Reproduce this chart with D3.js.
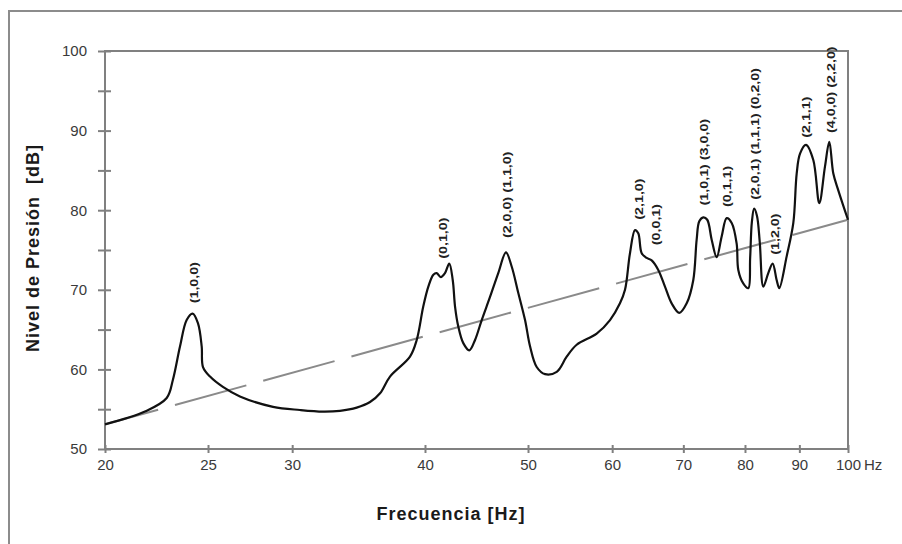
<!DOCTYPE html>
<html>
<head>
<meta charset="utf-8">
<script src="https://cdn.jsdelivr.net/npm/d3@7"></script>
<style>
    body { margin: 0; background: #fff; }
    text { font-family: Arial, "Liberation Sans", sans-serif; }
</style>
</head>
<body>
<svg id="chart" width="902" height="544"></svg>
<script>
var freqs = [20, 21.81, 22.86, 23.17, 23.53, 23.87, 24.18, 24.46, 24.66, 24.73,
    25.11, 25.82, 26.79, 28.78, 30.51, 32.07, 33.27, 34.5, 35.51, 36.29,
    37.08, 38.72, 39.29, 39.85, 40.29, 40.73, 41.03, 41.39, 41.77, 42.16,
    42.48, 42.69, 42.99, 43.46, 44.03, 44.58, 45.23, 46.05, 46.88, 47.67,
    48.27, 48.96, 49.68, 50.22, 50.95, 51.88, 53.21, 54.37, 55.56, 58.02,
    59.72, 61.02, 61.69, 62.36, 63.04, 63.49, 63.96, 64.66, 65.36, 66.3,
    67.27, 68.25, 69.39, 70.51, 71.52, 72.05, 72.46, 73.09, 73.72, 74.43,
    75.24, 76.06, 76.89, 77.73, 78.57, 78.85, 79.7, 80.58, 80.9, 81.2,
    81.6, 82.1, 82.6, 83.24, 84.14, 84.94, 85.69, 86.17, 87.56, 88.83,
    89.48, 90.13, 91.3, 92.76, 93.97, 95.14, 96.03, 96.87, 97.92, 100];

var levels = [53.1, 54.7, 56.4, 58.7, 62.9, 66.2, 67.0, 65.8, 62.9, 60.3,
    59.1, 57.8, 56.6, 55.3, 54.9, 54.7, 54.8, 55.2, 55.9, 57.0,
    59.1, 61.6, 63.7, 67.9, 70.4, 71.9, 72.1, 71.6, 72.1, 73.3,
    71.2, 67.9, 65.4, 63.3, 62.4, 63.7, 66.2, 69.1, 72.1, 74.7,
    72.9, 69.6, 66.2, 62.9, 60.3, 59.4, 59.7, 61.6, 63.1, 64.5,
    66.2, 68.3, 70.0, 74.6, 77.5, 77.1, 74.6, 74.0, 73.7, 72.5,
    70.4, 68.3, 67.1, 68.3, 71.2, 76.3, 78.6, 79.1, 78.8, 76.3,
    74.1, 76.7, 79.0, 78.4, 75.8, 72.5, 70.8, 70.2, 74.0, 78.5,
    80.2, 79.3, 76.0, 70.4, 72.1, 73.3, 71.2, 70.2, 74.2, 78.4,
    84.6, 87.1, 88.2, 86.3, 80.9, 85.5, 88.6, 84.6, 82.5, 78.8];

// dashed trend line end points
var trendFreqs = [20, 100];
var trendLevels = [53.1, 78.8];

var xTicks = [20, 25, 30, 40, 50, 60, 70, 80, 90, 100];
var yTicks = [50, 55, 60, 65, 70, 75, 80, 85, 90, 95, 100];

// room modes, label sits just above each peak
var modeNames = ["(1,0,0)", "(0,1,0)", "(2,0,0) (1,1,0)", "(2,1,0)", "(0,0,1)",
    "(1,0,1) (3,0,0)", "(0,1,1)", "(2,0,1) (1,1,1) (0,2,0)", "(1,2,0)",
    "(2,1,1)", "(4,0,0) (2,2,0)"];
var modeFreqs = [24.25, 41.57, 47.74, 63.59, 65.97, 73.2, 76.94, 81.84, 85.38, 91.3, 96.38];
var modeLevels = [68.3, 73.9, 76.5, 78.8, 75.6, 80.6, 80.4, 81.3, 74.4, 89.1, 89.7];

var width = 902,
    height = 544,
    margin = {top: 51, right: 54, bottom: 95, left: 105},
    axisGrey = "#808080",
    svg = d3.select("#chart");

var x = d3.scaleLog()
    .domain([20, 100])
    .range([margin.left, width - margin.right]);

var y = d3.scaleLinear()
    .domain([50, 100])
    .range([height - margin.bottom, margin.top]);

// outer picture frame (only top and left edges are visible)
svg.append("rect")
    .attr("x", 9)
    .attr("y", 11)
    .attr("width", 1000)
    .attr("height", 1000)
    .attr("fill", "none")
    .attr("stroke", "#8c8c8c")
    .attr("stroke-width", 2);

// plot frame
svg.append("rect")
    .attr("x", x(20))
    .attr("y", y(100))
    .attr("width", x(100) - x(20))
    .attr("height", y(50) - y(100))
    .attr("fill", "none")
    .attr("stroke", axisGrey)
    .attr("stroke-width", 2);

var yAxis = svg.append("g")
    .attr("transform", "translate(" + x(20) + ",0)")
    .call(d3.axisLeft(y)
        .tickValues(yTicks)
        .tickSize(7)
        .tickPadding(11)
        .tickFormat(function(d) { return d % 10 === 0 ? d : ""; }));

var xAxis = svg.append("g")
    .attr("transform", "translate(0," + y(50) + ")")
    .call(d3.axisBottom(x)
        .tickValues(xTicks)
        .tickSize(4)
        .tickPadding(6)
        .tickFormat(d3.format("d")));

[yAxis, xAxis].forEach(function(ax) {
    ax.select(".domain").remove();
    ax.selectAll("line").attr("stroke", axisGrey).attr("stroke-width", 2);
    ax.selectAll("text")
        .attr("fill", "#3a3a3a")
        .style("font-size", "15px");
});

// ticks cross the axis lines
yAxis.selectAll(".tick line").attr("x1", 6);
xAxis.selectAll(".tick line").attr("y1", -4);

svg.append("text")
    .attr("x", x(100) + 16)
    .attr("y", y(50) + 10)
    .attr("dy", "0.71em")
    .attr("fill", "#3a3a3a")
    .style("font-size", "15px")
    .text("Hz");

// trend line
var trend = d3.range(trendFreqs.length).map(function(i) {
    return [trendFreqs[i], trendLevels[i]];
});

svg.append("path")
    .datum(trend)
    .attr("d", d3.line()
        .x(function(d) { return x(d[0]); })
        .y(function(d) { return y(d[1]); }))
    .attr("fill", "none")
    .attr("stroke", "#8a8a8a")
    .attr("stroke-width", 2)
    .attr("stroke-dasharray", "74,17.5")
    .attr("stroke-dashoffset", 18.9);

// response curve
var response = freqs.map(function(f, i) { return [f, levels[i]]; });

svg.append("path")
    .datum(response)
    .attr("d", d3.line()
        .curve(d3.curveCatmullRom.alpha(0.5))
        .x(function(d) { return x(d[0]); })
        .y(function(d) { return y(d[1]); }))
    .attr("fill", "none")
    .attr("stroke", "#111")
    .attr("stroke-width", 2.2)
    .attr("stroke-linejoin", "round");

// mode labels, vertical
svg.selectAll(".mode")
    .data(modeNames)
    .enter().append("text")
    .attr("class", "mode")
    .attr("transform", function(d, i) {
        return "translate(" + x(modeFreqs[i]) + "," + y(modeLevels[i]) + ") rotate(-90) scale(1.3,1)";
    })
    .attr("dy", "0.35em")
    .attr("fill", "#222")
    .style("font-size", "11px")
    .style("font-weight", "bold")
    .text(function(d) { return d; });

// axis titles
svg.append("text")
    .attr("x", 451)
    .attr("y", 520)
    .attr("text-anchor", "middle")
    .attr("fill", "#1a1a1a")
    .style("font-size", "18px")
    .style("font-weight", "bold")
    .style("letter-spacing", "1px")
    .text("Frecuencia [Hz]");

svg.append("text")
    .attr("transform", "translate(39,248) rotate(-90)")
    .attr("text-anchor", "middle")
    .attr("fill", "#1a1a1a")
    .style("font-size", "18px")
    .style("font-weight", "bold")
    .style("letter-spacing", "1px")
    .style("white-space", "pre")
    .text("Nivel de Presión  [dB]");
</script>
</body>
</html>
